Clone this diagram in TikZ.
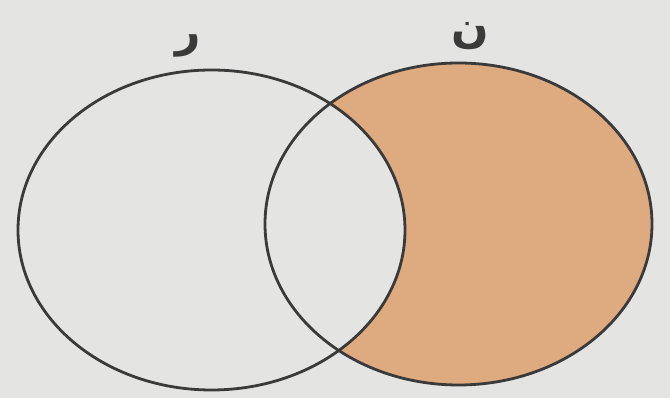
\documentclass[tikz,border=0pt]{standalone}
\usepackage{fontspec}
\TeXXeTstate=1
\newfontfamily\arabicfont[Script=Arabic]{DejaVu Sans}
\definecolor{bgc}{HTML}{E4E4E2}
\definecolor{peach}{HTML}{DEAA80}
\definecolor{linec}{HTML}{3A3A3A}
\tikzset{setline/.style={draw=linec, line width=2.8pt},
  setlabel/.style={font=\arabicfont\bfseries\fontsize{44}{50}\selectfont, text=linec, inner sep=0pt}}
\begin{document}
\begin{tikzpicture}[x=1pt,y=1pt]
\fill[bgc] (0,0) rectangle (670,398);
\useasboundingbox (0,0) rectangle (670,398);
\coordinate (cl) at (211.5,168);
\coordinate (cr) at (458.5,174);
\fill[peach] (cr) ellipse [x radius=193.5, y radius=161];
\fill[bgc] (cl) ellipse [x radius=193.5, y radius=160];
\draw[setline] (cl) ellipse [x radius=193.5, y radius=160];
\draw[setline] (cr) ellipse [x radius=193.5, y radius=161];
\node[setlabel, anchor=center] (la) at (188,352) {\beginR ر\endR};
\node[setlabel, anchor=center] (lb) at (470,362) {\beginR ن\endR};
\end{tikzpicture}
\end{document}
